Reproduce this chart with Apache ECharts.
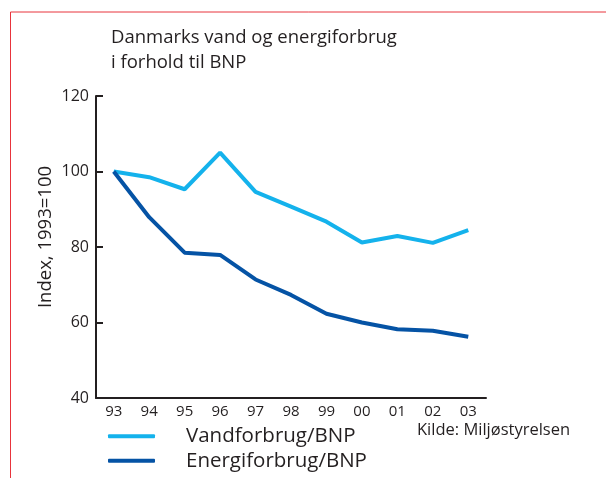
<!DOCTYPE html>
<html>
<head>
<meta charset="utf-8">
<script src="https://cdn.jsdelivr.net/npm/echarts@6/dist/echarts.min.js"></script>
<style>
  html, body { margin: 0; padding: 0; background: #fff; }
  #chart { width: 606px; height: 478px; }
</style>
</head>
<body>
<div id="chart"></div>
<script>
// data (index, 1993 = 100)
var years = ['93', '94', '95', '96', '97', '98', '99', '00', '01', '02', '03'];
var vandList = [100, 98.5, 95.3, 105, 94.6, 90.7, 86.7, 81.2, 82.9, 81.1, 84.5];
var energiList = [100, 87.9, 78.5, 77.9, 71.4, 67.3, 62.3, 60.0, 58.2, 57.8, 56.2];
var yTicks = [40, 60, 80, 100, 120];

var textColor = '#231f20';
var font = '"Open Sans", "DejaVu Sans", sans-serif';

var chart = echarts.init(document.getElementById('chart'), null, { renderer: 'canvas' });

var option = {
  backgroundColor: '#fff',
  animation: false,
  title: {
    text: 'Danmarks vand og energiforbrug\ni forhold til BNP',
    left: 106,
    top: 20,
    textStyle: { color: textColor, fontFamily: font, fontWeight: 'normal', fontSize: 18.5, lineHeight: 25 }
  },
  grid: { left: 96, right: 120, top: 96, bottom: 80 },
  legend: {
    orient: 'vertical',
    left: 108,
    top: 425,
    height: 53,
    padding: 0,
    itemWidth: 47,
    itemHeight: 4,
    itemGap: 2,
    icon: 'roundRect',
    textStyle: { color: textColor, fontFamily: font, fontSize: 20.5, lineHeight: 22.5, padding: [0, 0, 0, 26] },
    data: ['Vandforbrug/BNP', 'Energiforbrug/BNP']
  },
  xAxis: {
    type: 'category',
    data: years,
    boundaryGap: true,
    axisLine: { lineStyle: { color: textColor, width: 2 } },
    axisTick: { alignWithLabel: true, inside: true, length: 7, lineStyle: { color: textColor, width: 2 } },
    axisLabel: { color: textColor, fontFamily: font, fontSize: 15, margin: 6 },
    splitLine: { show: false }
  },
  yAxis: {
    type: 'value',
    min: yTicks[0],
    max: yTicks[yTicks.length - 1],
    interval: 20,
    name: 'Index, 1993=100',
    nameLocation: 'middle',
    nameGap: 41,
    nameMoveOverlap: false,
    nameTextStyle: { color: textColor, fontFamily: font, fontSize: 18.5, padding: [0, 0, 0, 20] },
    axisLine: { show: true, lineStyle: { color: textColor, width: 2 } },
    axisTick: { show: true, inside: true, length: 7, lineStyle: { color: textColor, width: 2 } },
    axisLabel: { color: textColor, fontFamily: font, fontSize: 16, margin: 7 },
    splitLine: { show: false }
  },
  graphic: [
    {
      type: 'text',
      left: 417,
      top: 422,
      style: { text: 'Kilde: Miljøstyrelsen', fill: textColor, font: '16.5px ' + font }
    },
    {
      type: 'polyline',
      silent: true,
      shape: { points: [[606, 12], [10.5, 12], [10.5, 478]] },
      style: { stroke: '#e8343c', lineWidth: 1, fill: null }
    }
  ],
  series: [
    {
      name: 'Vandforbrug/BNP',
      type: 'line',
      data: vandList,
      symbol: 'none',
      color: '#14b2ec',
      lineStyle: { width: 4, color: '#14b2ec' }
    },
    {
      name: 'Energiforbrug/BNP',
      type: 'line',
      data: energiList,
      symbol: 'none',
      color: '#0553a5',
      lineStyle: { width: 4, color: '#0553a5' }
    }
  ]
};

chart.setOption(option);
</script>
</body>
</html>
